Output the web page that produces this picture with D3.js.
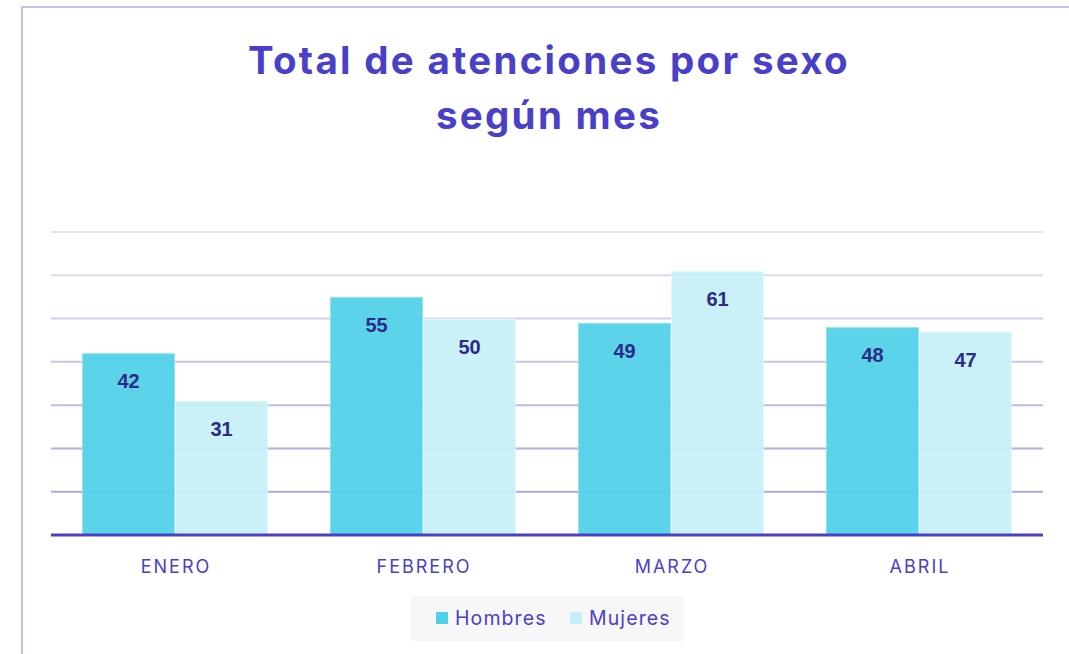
<!DOCTYPE html>
<html>
<head>
<meta charset="utf-8">
<script src="https://cdn.jsdelivr.net/npm/d3@7"></script>
<style>
  body { margin: 0; background: #fff; }
  svg { display: block; }
</style>
</head>
<body>
<div id="chart"></div>
<script>
// Data
var months = ["ENERO", "FEBRERO", "MARZO", "ABRIL"];
var seriesNames = ["Hombres", "Mujeres"];
var hombres = [42, 55, 49, 48];
var mujeres = [31, 50, 61, 47];
var gridTicks = [0, 10, 20, 30, 40, 50, 60, 70];

var colors = { Hombres: "#4fd1e8", Mujeres: "#c5f0f6" };
var strokes = { Hombres: "#8ee3f1", Mujeres: "#e2f8fb" };

var width = 1069, height = 654;
var margin = { top: 232, right: 26, bottom: 119, left: 51 };

var svg = d3.select("#chart")
  .append("svg")
  .attr("width", width)
  .attr("height", height);

// frame
svg.append("path")
  .attr("d", "M22," + height + " L22,7 L" + width + ",7")
  .attr("fill", "none")
  .attr("stroke", "#c4c0f0")
  .attr("stroke-width", 2);

// title
var title = svg.append("text")
  .attr("text-anchor", "middle")
  .attr("font-family", "Inter, 'Open Sans', sans-serif")
  .attr("font-weight", 700)
  .attr("font-size", 38.5)
  .attr("letter-spacing", "2.3px")
  .attr("fill", "#4a3fc7");
title.append("tspan").attr("x", 549).attr("y", 74).text("Total de atenciones por sexo");
title.append("tspan").attr("x", 549).attr("y", 129).text("según mes");

var x0 = d3.scaleBand()
  .domain(months)
  .range([margin.left, width - margin.right])
  .paddingInner(0.25)
  .paddingOuter(0.125);

var x1 = d3.scaleBand()
  .domain(seriesNames)
  .range([0, x0.bandwidth()]);

var y = d3.scaleLinear()
  .domain([0, 70])
  .range([height - margin.bottom, margin.top]);

// gridlines
var gridColor = d3.scaleLinear()
  .domain([70, 10])
  .range(["#e5e4ea", "#aea6d4"]);

svg.append("g")
  .selectAll("line")
  .data(gridTicks.filter(function (d) { return d > 0; }))
  .enter()
  .append("line")
  .attr("x1", margin.left)
  .attr("x2", width - margin.right)
  .attr("y1", function (d) { return y(d); })
  .attr("y2", function (d) { return y(d); })
  .attr("stroke", function (d) { return gridColor(d); })
  .attr("stroke-width", 2);

// bars
var rows = months.map(function (m, i) {
  return { month: m, values: [
    { key: "Hombres", value: hombres[i] },
    { key: "Mujeres", value: mujeres[i] }
  ] };
});

var groups = svg.append("g")
  .selectAll("g")
  .data(rows)
  .enter()
  .append("g")
  .attr("transform", function (d) { return "translate(" + x0(d.month) + ",0)"; });

groups.selectAll("rect")
  .data(function (d) { return d.values; })
  .enter()
  .append("rect")
  .attr("x", function (d) { return x1(d.key) + 0.5; })
  .attr("y", function (d) { return y(d.value) + 0.5; })
  .attr("width", x1.bandwidth() - 1)
  .attr("height", function (d) { return y(0) - y(d.value) - 0.5; })
  .attr("fill", function (d) { return colors[d.key]; })
  .attr("fill-opacity", 0.93)
  .attr("stroke", function (d) { return strokes[d.key]; })
  .attr("stroke-width", 1);

groups.selectAll("text")
  .data(function (d) { return d.values; })
  .enter()
  .append("text")
  .attr("x", function (d) { return x1(d.key) + x1.bandwidth() / 2; })
  .attr("y", function (d) { return y(d.value) + 35; })
  .attr("text-anchor", "middle")
  .attr("font-family", "'Liberation Sans', Arial, sans-serif")
  .attr("font-weight", 700)
  .attr("font-size", 20)
  .attr("fill", "#2d2a88")
  .text(function (d) { return d.value; });

// x axis
var xAxis = svg.append("g")
  .attr("transform", "translate(0," + y(0) + ")")
  .call(d3.axisBottom(x0).tickSize(0).tickPadding(25));
xAxis.select(".domain")
  .attr("stroke", "#4a3fc7")
  .attr("stroke-width", 3)
  .attr("d", "M" + margin.left + ",0H" + (width - margin.right));
xAxis.selectAll("text")
  .attr("font-family", "Inter, 'Noto Sans', sans-serif")
  .attr("font-size", 18)
  .attr("letter-spacing", "2px")
  .attr("dx", "1px")
  .attr("fill", "#4a3fc7");

// legend
var legend = svg.append("g");
legend.append("rect")
  .attr("x", 411).attr("y", 596)
  .attr("width", 273).attr("height", 45)
  .attr("fill", "#f7f7f8");

var legendX = [436, 570];
var items = legend.selectAll("g")
  .data(seriesNames)
  .enter()
  .append("g")
  .attr("transform", function (d, i) { return "translate(" + legendX[i] + ",612)"; });
items.append("rect")
  .attr("width", 12).attr("height", 12)
  .attr("fill", function (d) { return colors[d]; });
items.append("text")
  .attr("x", 19).attr("y", 13)
  .attr("font-family", "Inter, 'Noto Sans', sans-serif")
  .attr("font-size", 19.5)
  .attr("letter-spacing", "1.1px")
  .attr("fill", "#4a3fc7")
  .text(function (d) { return d; });
</script>
</body>
</html>
